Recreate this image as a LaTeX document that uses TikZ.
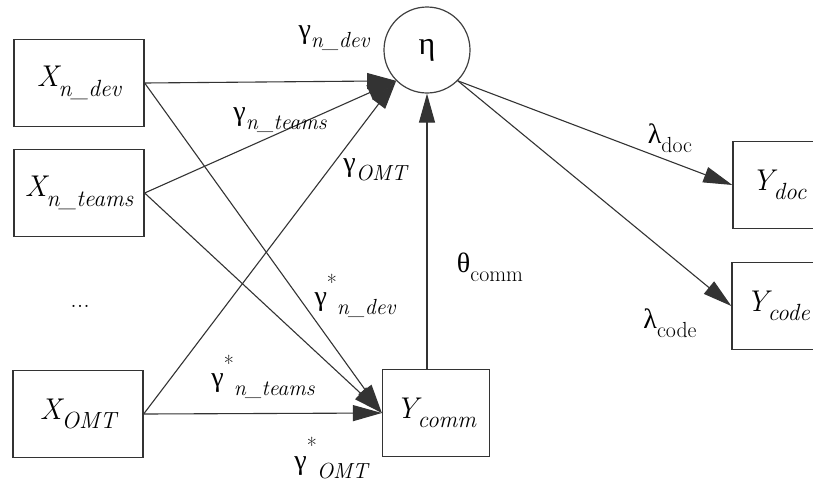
\documentclass[tikz,border=0pt]{standalone}
\usepackage{fontspec}
\newfontfamily\grk{Liberation Serif}
\usetikzlibrary{arrows.meta}

% lowered index and raised star, in the style of the old figure
\newcommand{\lowidx}[1]{\raisebox{-.32em}{\scalebox{.78}{#1}}}
\newcommand{\upstar}{\raisebox{.55em}{\scalebox{.78}{*}}}

\begin{document}
\begin{tikzpicture}[x=1pt,y=-1pt,
    var/.style={draw=black!80, line width=1.3pt, minimum width=130pt, minimum height=87pt,
                inner sep=0pt, font=\fontsize{30}{30}\selectfont\itshape},
    latent/.style={draw=black!75, circle, line width=1.2pt, minimum size=86pt, inner sep=0pt,
                   font=\grk\fontsize{32}{32}\selectfont},
    coef/.style={font=\fontsize{28}{28}\selectfont, inner sep=0pt},
    path/.style={draw=black!80, line width=1.1pt, -{Triangle[length=29pt,width=16pt]}}]
            \clip (0,0) rectangle (813,483);
            % observed and latent variables
            \node[var] (xdev) at (79,83) {X\lowidx{n\_dev}};
            \node[var] (xteams) at (79,193) {X\lowidx{n\_teams}};
            \node[font=\fontsize{26}{26}\selectfont] (dots) at (80,306) {...};
            \node[var] (xomt) at (78,414) {X\lowidx{OMT}};
            \node[var,minimum width=107pt] (ycomm) at (436,413) {Y\lowidx{comm}};
            \node[latent] (eta) at (427,50) {η};
            \node[var,minimum width=92pt] (ydoc) at (779,185) {Y\lowidx{doc}};
            \node[var,minimum width=92pt] (ycode) at (778,306) {Y\lowidx{code}};
            % paths
            \foreach \src in {xdev,xteams,xomt} {
                \draw[path] (\src.east) -- (eta.225);
                \draw[path] (\src.east) -- (ycomm.west);
            }
            \draw[path] (eta.south |- ycomm.north) -- (eta.south);
            \draw[path] (eta.-45) -- (ydoc.west);
            \draw[path] (eta.-45) -- (ycode.west);
            % coefficients
            \node[coef] (gdev) at (334,38) {{\grk γ}\lowidx{\itshape n\_dev}};
            \node[coef] (gteams) at (280,120) {{\grk γ}\lowidx{\itshape n\_teams}};
            \node[coef] (gomt) at (375,170) {{\grk γ}\lowidx{\itshape OMT}};
            \node[coef] (gsdev) at (355,296) {{\grk γ}\upstar\lowidx{\itshape n\_dev}};
            \node[coef] (gsteams) at (263,377) {{\grk γ}\upstar\lowidx{\itshape n\_teams}};
            \node[coef] (gsomt) at (331,458) {{\grk γ}\upstar\lowidx{\itshape OMT}};
            \node[coef] (tcomm) at (490,267) {{\grk θ}\lowidx{comm}};
            \node[coef] (ldoc) at (670,138) {{\grk λ}\lowidx{doc}};
            \node[coef] (lcode) at (670,323) {{\grk λ}\lowidx{code}};
        \end{tikzpicture}
\end{document}
